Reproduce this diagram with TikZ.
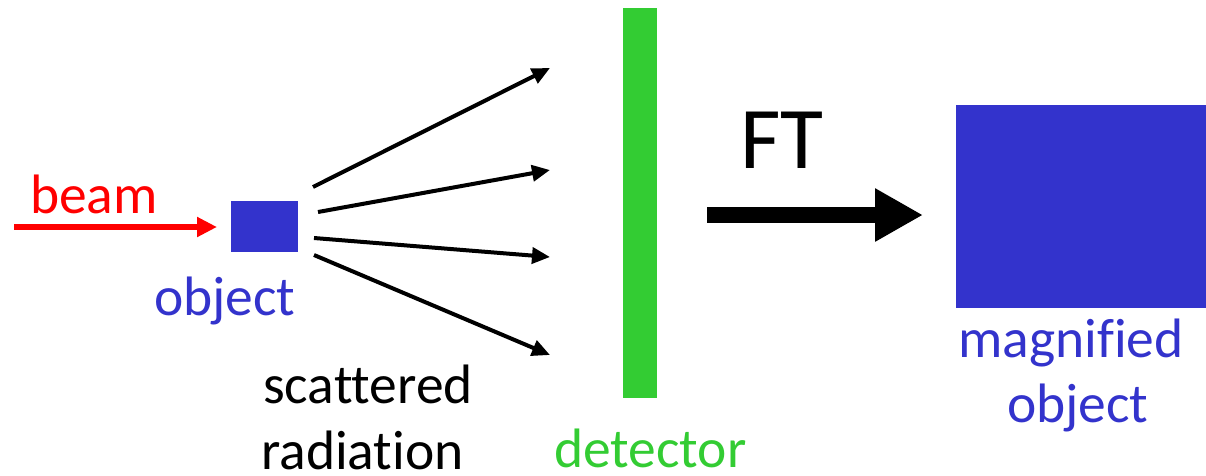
\documentclass[tikz,border=0pt]{standalone}
\usepackage{fontspec}
\setmainfont{Carlito}[Ligatures=CommonOff]
\usetikzlibrary{arrows.meta}
\definecolor{objblue}{HTML}{3333CC}
\definecolor{detgreen}{HTML}{33CC33}
\definecolor{beamred}{HTML}{FF0000}
\begin{document}
\begin{tikzpicture}[x=1pt,y=-1pt,
  lbl/.style={inner sep=0pt,anchor=base west,font=\fontsize{55.5}{55.5}\selectfont},
  ray/.style={line width=4pt,-{Triangle[length=18pt,width=16pt]}},
  box/.style={inner sep=0pt,outer sep=0pt,draw=none}]
\useasboundingbox (0,0) rectangle (1206,475);
% object
\node[box,fill=objblue,minimum width=67pt,minimum height=51pt] (obj) at (264.5,226.5) {};
% detector
\node[box,fill=detgreen,minimum width=34pt,minimum height=390pt] (det) at (640,203) {};
% magnified object
\node[box,fill=objblue,minimum width=250pt,minimum height=203pt] (mag) at (1081,206.5) {};
% beam
\coordinate (b0) at (14,227);
\draw[beamred,line width=6pt,-{Triangle[length=20pt,width=19pt]}] (b0) -- ([xshift=-14pt]obj.west |- b0);
\node[lbl,text=beamred] (beam) at (30,213) {beam};
\node[lbl,text=objblue] (objl) at (154,315) {object};
% scattered rays
\coordinate (s1) at (313,187); \coordinate (e1) at (550,68);
\coordinate (s2) at (318,212); \coordinate (e2) at (550,170);
\coordinate (s3) at (314,238); \coordinate (e3) at (550,257);
\coordinate (s4) at (314,255); \coordinate (e4) at (550,355);
\draw[ray] (s1) -- (e1);
\draw[ray] (s2) -- (e2);
\draw[ray] (s3) -- (e3);
\draw[ray] (s4) -- (e4);
\node[lbl] (sc1) at (263,403) {scattered};
\node[lbl,text depth=0pt] (sc2) at (261,469) {radiation};
\node[lbl,text depth=0pt,text=detgreen] (detl) at (554,467) {detector};
% FT
\coordinate (f0) at (707,215);
\draw[line width=16pt,-{Triangle[length=48pt,width=50pt]}] (f0) -- ([xshift=-33pt]mag.west |- f0);
\node[lbl,font=\fontsize{88}{88}\selectfont] (ft) at (740,168) {FT};
\node[lbl,text=objblue] (magl) at (958,357) {magnified};
\node[lbl,text=objblue] (magl2) at (1007,422) {object};
\end{tikzpicture}
\end{document}
